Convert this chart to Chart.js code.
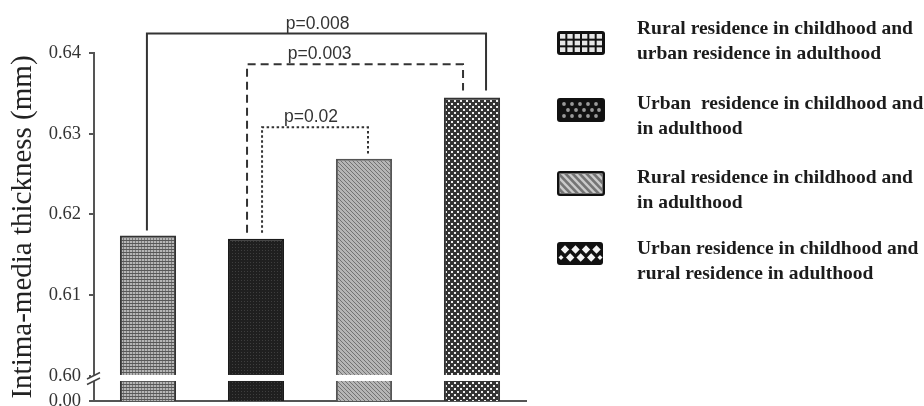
<!DOCTYPE html>
<html><head><meta charset="utf-8">
<script src="https://cdn.jsdelivr.net/npm/chart.js@4"></script>
<style>
html,body{margin:0;padding:0;background:#fff;}
#wrap{position:relative;width:924px;height:406px;overflow:hidden;background:#fff;}
#c{position:absolute;left:0;top:0;}
.leg-icon{position:absolute;}
.leg-text{position:absolute;left:637px;font-family:'Liberation Serif','Times New Roman',serif;font-weight:bold;font-size:19.5px;line-height:25px;color:#1c1c1c;white-space:pre;}
</style></head><body>
<div id="wrap"><canvas id="c" width="924" height="430"></canvas><div id="legend"></div></div>
<script>
// ---------------- data ----------------
const categories = [
  'Rural childhood / urban adulthood',
  'Urban childhood and adulthood',
  'Rural childhood and adulthood',
  'Urban childhood / rural adulthood'
];
const imtValues = [0.6174, 0.6170, 0.6269, 0.6345];
const yTickValues = [0.60, 0.61, 0.62, 0.63, 0.64];
const brokenAxisLabel = '0.00';
const yAxisTitle = 'Intima-media thickness (mm)';
const legendLines = [
  ['Rural residence in childhood and', 'urban residence in adulthood'],
  ['Urban  residence in childhood and', 'in adulthood'],
  ['Rural residence in childhood and', 'in adulthood'],
  ['Urban residence in childhood and', 'rural residence in adulthood']
];
const pLabels = ['p=0.008', 'p=0.003', 'p=0.02'];
const bracketFrom = [0, 1, 1];
const bracketTo = [3, 3, 2];
const bracketLevels = [0.6424, 0.6386, 0.6308];

// ---------------- styles ----------------
const Y_MIN = 0.5969, Y_MAX = 0.64, BREAK_AT = 0.60;
const bracketStyle = [
  {dash: [], dx1: -0.01, dx2: 0.13, gap1: 5, gap2: 7, labelAt: 1.57},
  {dash: [8, 5], dx1: -0.083, dx2: -0.083, gap1: 6, gap2: 7, labelAt: 1.59},
  {dash: [2.5, 2.5], dx1: 0.056, dx2: 0.037, gap1: 6, gap2: 5, labelAt: 1.51}
];

const canvas = document.getElementById('c');
const mainCtx = canvas.getContext('2d');
function tile(w, h, draw) {
  const c = document.createElement('canvas'); c.width = w; c.height = h;
  const g = c.getContext('2d'); draw(g); return mainCtx.createPattern(c, 'repeat');
}
const patGrid = tile(3, 3, g => {
  g.fillStyle = '#b6b6b6'; g.fillRect(0, 0, 3, 3);
  g.fillStyle = '#7a7a7a'; g.fillRect(0, 0, 1, 3);
  g.fillStyle = '#585858'; g.fillRect(0, 0, 3, 1);
});
const patDark = tile(3, 3, g => {
  g.fillStyle = '#1f1f1f'; g.fillRect(0, 0, 3, 3);
  g.fillStyle = '#3e3e3e'; g.fillRect(1, 1, 1, 1);
});
const patDiag = tile(4, 4, g => {
  g.fillStyle = '#b5b5b5'; g.fillRect(0, 0, 4, 4);
  g.fillStyle = '#727272';
  for (let i = 0; i < 4; i++) g.fillRect(i, i, 1, 1);
});
const patCheck = tile(6, 6, g => {
  g.fillStyle = '#333333'; g.fillRect(0, 0, 6, 6);
  g.fillStyle = '#eeeeee'; g.fillRect(1, 1, 2, 2); g.fillRect(4, 4, 2, 2);
});

const bracketPlugin = {
  id: 'brackets',
  afterDatasetsDraw(chart) {
    const {ctx, chartArea} = chart;
    const xs = chart.scales.x, ys = chart.scales.y;
    // axis break: white band across bars and axis
    const yb = ys.getPixelForValue(BREAK_AT);
    const ax = chartArea.left;
    ctx.save();
    ctx.fillStyle = '#fff';
    ctx.fillRect(ax - 3, yb - 1, chartArea.right - ax + 6, 6);
    ctx.strokeStyle = '#444'; ctx.lineWidth = 1.6;
    ctx.beginPath();
    ctx.moveTo(ax - 7, yb + 3); ctx.lineTo(ax + 6, yb - 3.5);
    ctx.moveTo(ax - 7, yb + 8.5); ctx.lineTo(ax + 6, yb + 2);
    ctx.stroke();
    ctx.restore();

    // significance brackets
    ctx.save();
    ctx.strokeStyle = '#333'; ctx.lineWidth = 2;
    ctx.font = '17.5px "Liberation Sans", Arial, sans-serif';
    ctx.fillStyle = '#333'; ctx.textAlign = 'center'; ctx.textBaseline = 'alphabetic';
    for (let i = 0; i < pLabels.length; i++) {
      const st = bracketStyle[i];
      const x1 = xs.getPixelForValue(bracketFrom[i] + st.dx1);
      const x2 = xs.getPixelForValue(bracketTo[i] + st.dx2);
      const yl = ys.getPixelForValue(bracketLevels[i]);
      const y1 = ys.getPixelForValue(imtValues[bracketFrom[i]]) - st.gap1;
      const y2 = ys.getPixelForValue(imtValues[bracketTo[i]]) - st.gap2;
      ctx.setLineDash(st.dash);
      ctx.beginPath();
      ctx.moveTo(x1, y1); ctx.lineTo(x1, yl); ctx.lineTo(x2, yl); ctx.lineTo(x2, y2);
      ctx.stroke();
      ctx.setLineDash([]);
      ctx.fillText(pLabels[i], xs.getPixelForValue(st.labelAt), yl - 5);
    }
    ctx.restore();
  }
};

new Chart(canvas, {
  type: 'bar',
  data: {
    labels: categories,
    datasets: [{
      data: imtValues,
      backgroundColor: [patGrid, patDark, patDiag, patCheck],
      borderColor: ['#333', '#1a1a1a', '#555', '#333'],
      borderWidth: 2,
      barPercentage: 0.52,
      categoryPercentage: 1
    }]
  },
  options: {
    responsive: false,
    animation: false,
    layout: {padding: {top: 53, right: 398, bottom: 29, left: 0}},
    plugins: {legend: {display: false}, tooltip: {enabled: false}, title: {display: false}},
    scales: {
      x: {
        grid: {display: false, drawTicks: false},
        ticks: {display: false},
        border: {display: true, color: '#555', width: 2}
      },
      y: {
        min: Y_MIN, max: Y_MAX,
        afterBuildTicks: s => { s.ticks = [Y_MIN, ...yTickValues].map(v => ({value: v})); },
        afterFit: s => { s.width = 94; },
        ticks: {
          autoSkip: false,
          callback: (v, i) => i === 0 ? brokenAxisLabel : Number(v).toFixed(2),
          font: {family: '"Liberation Serif", "Times New Roman", serif', size: 18.5},
          color: '#333', padding: 8
        },
        grid: {display: true, drawOnChartArea: false, drawTicks: true, tickLength: 5, color: '#555', lineWidth: 2},
        border: {display: true, color: '#555', width: 2},
        title: {
          display: true, text: yAxisTitle,
          font: {family: '"Liberation Serif", "Times New Roman", serif', size: 29},
          color: '#222', padding: {top: 6, bottom: 0}
        }
      }
    }
  },
  plugins: [bracketPlugin]
});

// ---------------- legend ----------------
const legend = document.getElementById('legend');
const iconTops = [31, 98, 171, 242];
const textTops = [15, 90, 164, 235];
function rr(g, x, y, w, h, r) { g.beginPath(); g.roundRect(x, y, w, h, r); }
const iconDraw = [
  g => {
    g.fillStyle = '#111'; rr(g, 0, 0, 48, 24, 3); g.fill();
    g.fillStyle = '#e6e6e6';
    const cw = (42 - 10) / 6, ch = (18 - 4) / 3;
    for (let r = 0; r < 3; r++) for (let c = 0; c < 6; c++)
      g.fillRect(3 + c * (cw + 2), 3 + r * (ch + 2), cw, ch);
  },
  g => {
    g.fillStyle = '#111'; rr(g, 0, 0, 48, 24, 3); g.fill();
    g.fillStyle = '#9a9a9a';
    const rows = [[6, [7, 15, 23, 31, 39]], [12, [11, 19, 27, 35, 42]], [18, [7, 15, 23, 31, 39]]];
    for (const [y, xsA] of rows) for (const x of xsA) { g.beginPath(); g.arc(x, y, 1.9, 0, Math.PI * 2); g.fill(); }
  },
  g => {
    g.fillStyle = '#111'; rr(g, 0, 0, 48, 25, 3); g.fill();
    g.fillStyle = '#cacaca'; g.fillRect(2.5, 2.5, 43, 20);
    g.save(); g.beginPath(); g.rect(2.5, 2.5, 43, 20); g.clip();
    g.strokeStyle = '#757575'; g.lineWidth = 2.6;
    for (let x = -20; x < 52; x += 7) { g.beginPath(); g.moveTo(x, 2); g.lineTo(x + 20, 23); g.stroke(); }
    g.restore();
  },
  g => {
    g.fillStyle = '#111'; rr(g, 0, 0, 46, 23, 3); g.fill();
    g.fillStyle = '#f4f4f4';
    const dia = (cx, cy, r) => { g.beginPath(); g.moveTo(cx, cy - r); g.lineTo(cx + r, cy); g.lineTo(cx, cy + r); g.lineTo(cx - r, cy); g.closePath(); g.fill(); };
    for (const x of [8, 18.5, 29, 39.5]) dia(x, 7.5, 4.2);
    for (const x of [13.2, 23.7, 34.2]) dia(x, 15.5, 4.2);
    for (const x of [4, 43]) dia(x, 15.5, 2.5);
  }
];
for (let i = 0; i < legendLines.length; i++) {
  const ic = document.createElement('canvas');
  ic.width = 48; ic.height = 26; ic.className = 'leg-icon';
  ic.style.left = '557px'; ic.style.top = iconTops[i] + 'px';
  iconDraw[i](ic.getContext('2d'));
  legend.appendChild(ic);
  const t = document.createElement('div');
  t.className = 'leg-text'; t.style.top = textTops[i] + 'px';
  t.textContent = legendLines[i].join('\n');
  legend.appendChild(t);
}
</script>
</body></html>
